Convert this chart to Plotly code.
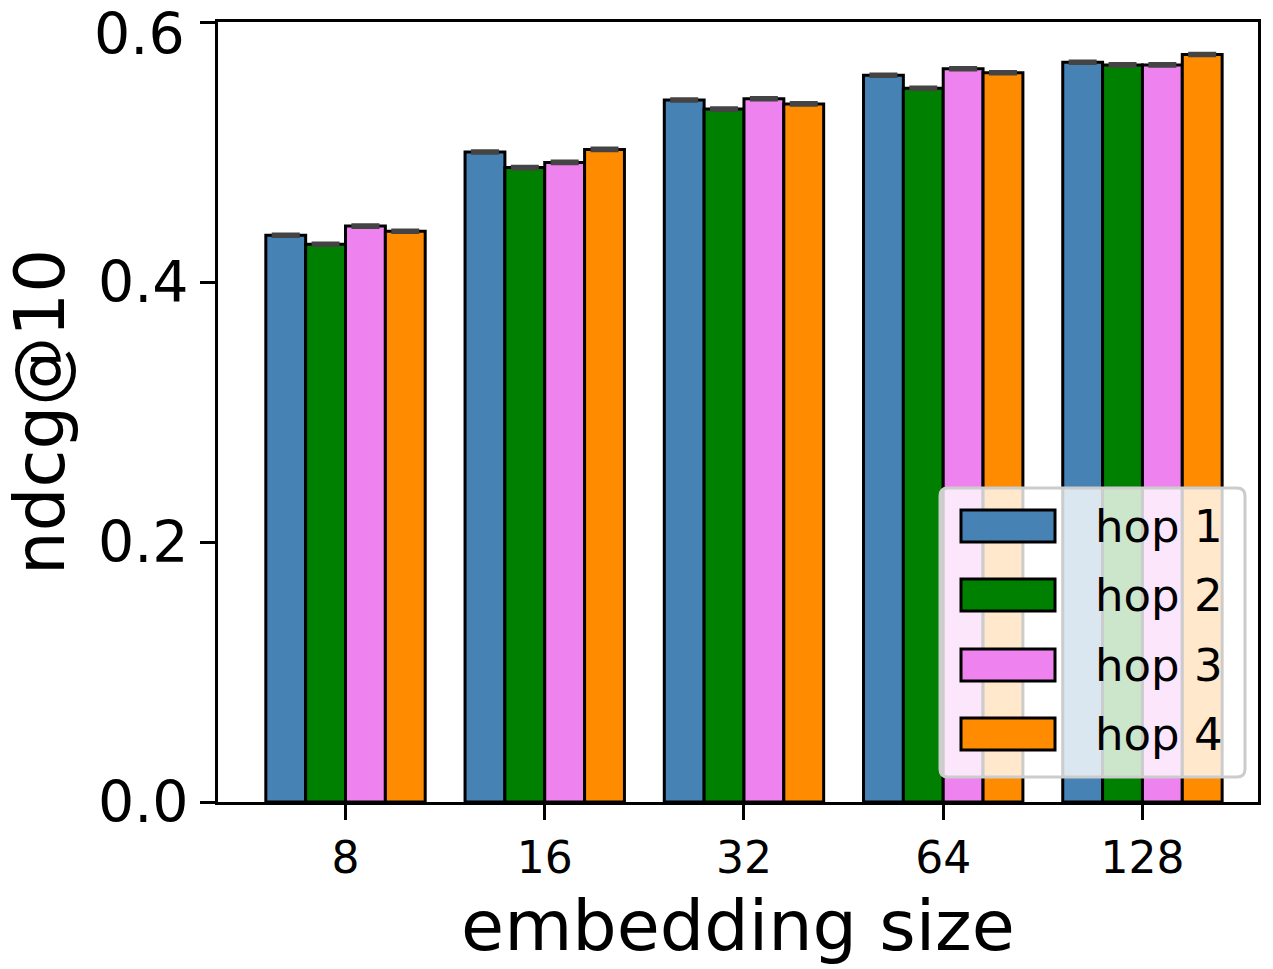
import plotly.graph_objects as go

categories = ["8", "16", "32", "64", "128"]
hop_names = ["hop 1", "hop 2", "hop 3", "hop 4"]
hop1 = [0.436, 0.500, 0.540, 0.559, 0.569]
hop2 = [0.429, 0.488, 0.533, 0.549, 0.567]
hop3 = [0.443, 0.492, 0.541, 0.564, 0.567]
hop4 = [0.439, 0.502, 0.537, 0.561, 0.575]
errors = [0.001, 0.001, 0.001, 0.001, 0.001]
y_ticks = [0.0, 0.2, 0.4, 0.6]

series = [hop1, hop2, hop3, hop4]
colors = ["#4682B4", "#008000", "#EE82EE", "#FF8C00"]

W, H = 1273, 969
L, R, T, B = 218, 1258, 22, 802
FONT = "DejaVu Sans"
YMAX = y_ticks[-1]

fig = go.Figure()
for name, vals, col in zip(hop_names, series, colors):
    fig.add_trace(go.Bar(
        x=categories, y=vals, name=name, marker_color=col,
        marker_line_color="black", marker_line_width=3,
        error_y=dict(type="data", array=errors, visible=True, color="#444444",
                     thickness=3, width=14),
        showlegend=False,
    ))

def px(x):
    return (x - L) / (R - L)

def py(y):
    return (B - y) / (B - T)

shapes = []
annotations = []
# legend box with rounded corners (pixel coords converted to paper)
bx0, bx1, by0, by1, r = 940, 1245, 488, 777, 8
path = (f"M{px(bx0 + r)},{py(by0)} L{px(bx1 - r)},{py(by0)} Q{px(bx1)},{py(by0)} {px(bx1)},{py(by0 + r)} "
        f"L{px(bx1)},{py(by1 - r)} Q{px(bx1)},{py(by1)} {px(bx1 - r)},{py(by1)} "
        f"L{px(bx0 + r)},{py(by1)} Q{px(bx0)},{py(by1)} {px(bx0)},{py(by1 - r)} "
        f"L{px(bx0)},{py(by0 + r)} Q{px(bx0)},{py(by0)} {px(bx0 + r)},{py(by0)} Z")
shapes.append(dict(type="path", xref="paper", yref="paper", path=path,
                   fillcolor="rgba(255,255,255,0.8)", line=dict(color="#cccccc", width=3),
                   layer="above"))
row_centers = [526, 595, 665, 734]
for name, col, cy in zip(hop_names, colors, row_centers):
    shapes.append(dict(type="rect", xref="paper", yref="paper",
                       x0=px(961), x1=px(1055), y0=py(cy - 16), y1=py(cy + 16),
                       fillcolor=col, line=dict(color="black", width=3), layer="above"))
    annotations.append(dict(text=name, xref="paper", yref="paper", x=px(1093), y=py(cy),
                            xanchor="left", yanchor="middle", showarrow=False,
                            font=dict(family=FONT, size=45, color="black")))

# top tick label drawn as text so it is not clipped at the page edge
annotations.append(dict(text=f"{YMAX:.1f}", xref="paper", yref="paper", x=px(186), y=py(0),
                        xanchor="right", yanchor="top", showarrow=False, borderpad=0,
                        font=dict(family=FONT, size=57, color="black")))
ticktext = [f"{v:.1f}" for v in y_ticks[:-1]] + [""]

fig.update_layout(
    width=W, height=H,
    margin=dict(l=L, r=W - R, t=T, b=H - B, autoexpand=False),
    plot_bgcolor="white", paper_bgcolor="white",
    barmode="group", bargap=0.2, bargroupgap=0,
    font=dict(family=FONT, color="black"),
    shapes=shapes, annotations=annotations,
    xaxis=dict(
        range=[-0.64, 4.58], showline=True, linecolor="black", linewidth=3, mirror=True,
        ticks="outside", ticklen=15, tickwidth=3, tickcolor="black", automargin=False,
        tickfont=dict(size=44, family=FONT, color="black"), showgrid=False,
        title=dict(text="embedding size", font=dict(size=70, family=FONT, color="black"), standoff=20),
    ),
    yaxis=dict(
        range=[0, YMAX], showline=True, linecolor="black", linewidth=3, mirror=True,
        ticks="outside", ticklen=15, tickwidth=3, tickcolor="black", automargin=False,
        tickvals=y_ticks, ticktext=ticktext,
        tickfont=dict(size=57, family=FONT, color="black"), showgrid=False, zeroline=False,
        title=dict(text="ndcg@10", font=dict(size=69, family=FONT, color="black"), standoff=15),
    ),
)

fig.write_html("out.html")
